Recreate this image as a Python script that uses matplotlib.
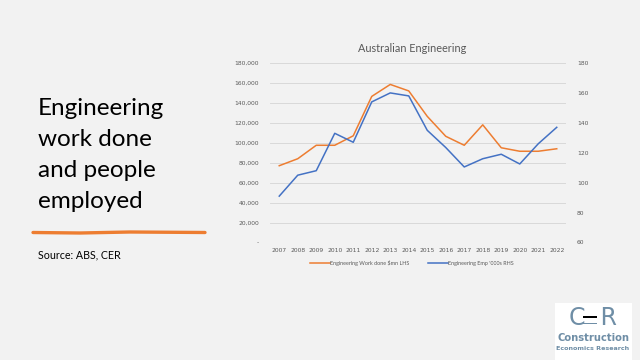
import matplotlib
matplotlib.use("Agg")
import matplotlib.pyplot as plt
from matplotlib.lines import Line2D
from matplotlib.patches import Rectangle
from matplotlib.ticker import FuncFormatter

years = ["2007", "2008", "2009", "2010", "2011", "2012", "2013", "2014",
         "2015", "2016", "2017", "2018", "2019", "2020", "2021", "2022"]
work_done = [77000, 84000, 97500, 97500, 107000, 146500, 158500, 152000,
             126500, 106500, 97500, 118000, 95000, 91500, 91500, 94000]
employment = [91, 105, 108, 133, 127, 154, 160, 158,
              135, 123.5, 110.5, 116, 119, 112.5, 126, 137]
left_ticks = [0, 20000, 40000, 60000, 80000, 100000, 120000, 140000, 160000, 180000]
right_ticks = [60, 80, 100, 120, 140, 160, 180]

BG = "#f2f2f2"
ORANGE = "#ED7D31"
BLUE = "#4472C4"
GREY = "#595959"

fig = plt.figure(figsize=(6.4, 3.6), dpi=100, facecolor=BG)

ax = fig.add_axes([270/640, 1-242.5/360, 296/640, (242.5-63)/360])
ax.set_facecolor(BG)
x = list(range(len(years)))
l1, = ax.plot(x, work_done, color=ORANGE, lw=1.1, label="Engineering Work done $mn LHS")
ax.set_xlim(-0.5, len(years)-0.5)
ax.set_ylim(0, 180000)
ax.set_yticks(left_ticks)
ax.yaxis.set_major_formatter(FuncFormatter(lambda v, p: "-" if v == 0 else f"{int(v):,}"))
ax.set_xticks(x)
ax.set_xticklabels(years)
ax.grid(axis="y", color="#d9d9d9", lw=0.7)
ax.set_axisbelow(True)
for s in ax.spines.values():
    s.set_visible(False)
ax.tick_params(axis="both", length=0, labelsize=4.3, labelcolor=GREY)
ax.tick_params(axis="y", pad=8)
ax.tick_params(axis="x", pad=4)

ax2 = ax.twinx()
l2, = ax2.plot(x, employment, color=BLUE, lw=1.1, label="Engineering Emp '000s RHS")
ax2.set_ylim(60, 180)
ax2.set_yticks(right_ticks)
for s in ax2.spines.values():
    s.set_visible(False)
ax2.tick_params(axis="y", length=0, labelsize=4.3, labelcolor=GREY, pad=8)

fig.text(412/640, 1-48/360, "Australian Engineering", ha="center", va="center",
         fontsize=7.8, color=GREY, family="Lato")

fig.legend(handles=[l1, l2], loc="center", bbox_to_anchor=(412/640, 1-263/360),
           ncol=2, frameon=False, fontsize=3.9, labelcolor=GREY,
           prop={"family": "Lato", "size": 3.9},
           handlelength=3.6, handletextpad=0.1, columnspacing=3.5)

# Left text block
lines = ["Engineering", "work done", "and people", "employed"]
baselines = [115, 146, 177, 208]
for t, b in zip(lines, baselines):
    fig.text(38/640, 1-b/360, t, ha="left", va="baseline", fontsize=17.5,
             color="black", family="Lato")

fig.add_artist(Line2D([33/640, 80/640, 130/640, 205/640],
                      [1-232.5/360, 1-233/360, 1-232/360, 1-232.5/360],
                      color=ORANGE, lw=2.4, solid_capstyle="round",
                      transform=fig.transFigure))

fig.text(38/640, 1-258/360, "Source: ABS, CER", ha="left", va="baseline",
         fontsize=7.7, color="black", family="Lato")

# Logo
fig.add_artist(Rectangle((555/640, 0), 77/640, (360-303)/360, transform=fig.transFigure,
                         facecolor="white", edgecolor="none"))
LOGO = "#6f8ea6"
fig.text(593/640, 1-318/360, "C  R", ha="center", va="center", fontsize=17,
         color=LOGO, family="DejaVu Sans")
fig.add_artist(Rectangle((583/640, 1-318/360), 14/640, 2.5/360, transform=fig.transFigure,
                         facecolor="black", edgecolor="none"))
fig.add_artist(Rectangle((583/640, 1-324/360), 14/640, 1.5/360, transform=fig.transFigure,
                         facecolor=LOGO, edgecolor="none"))
fig.text(593/640, 1-338/360, "Construction", ha="center", va="center", fontsize=7.2,
         color=LOGO, family="DejaVu Sans", weight="bold")
fig.text(593/640, 1-348/360, "Economics Research", ha="center", va="center", fontsize=4.6,
         color=LOGO, family="DejaVu Sans", weight="bold")

fig.savefig("out.png", dpi=100, facecolor=BG)
